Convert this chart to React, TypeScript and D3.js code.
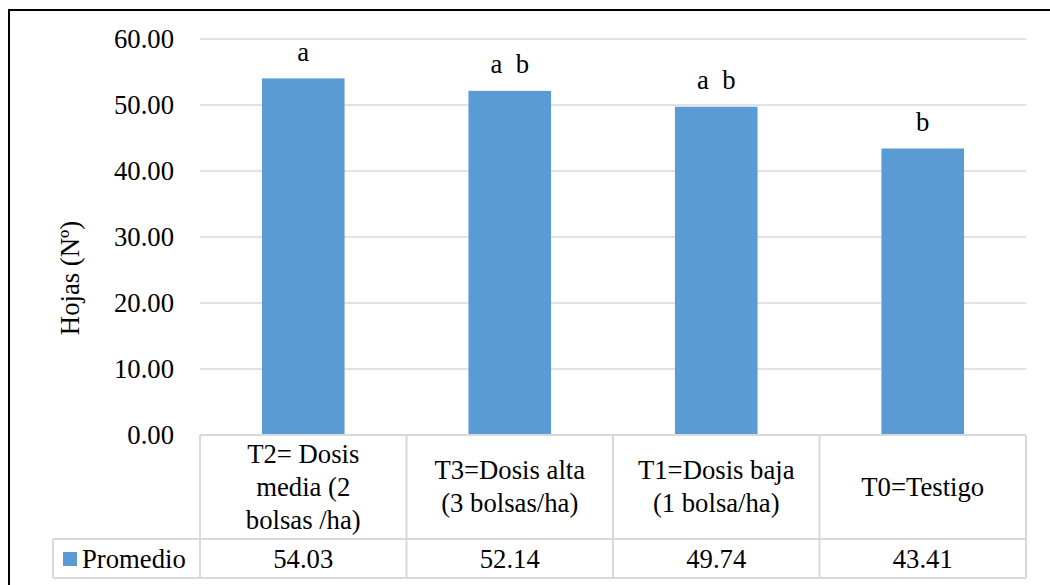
import React from 'react';
import * as d3 from 'd3';

const categories = [
  ['T2= Dosis', 'media (2', 'bolsas /ha)'],
  ['T3=Dosis alta', '(3 bolsas/ha)'],
  ['T1=Dosis baja', '(1 bolsa/ha)'],
  ['T0=Testigo'],
];
const promedio = [54.03, 52.14, 49.74, 43.41];
const letters = ['a', 'a  b', 'a  b', 'b'];
const yTicks = [0, 10, 20, 30, 40, 50, 60];
const seriesName = 'Promedio';
const yTitle = 'Hojas (Nº)';

const W = 1050;
const H = 585;
const left = 200;
const right = 1026;
const top = 39;
const base = 435;
const rowSplit = 539;
const tableBottom = 578;
const legendLeft = 53;
const font = "'Times New Roman', Times, 'Liberation Serif', 'DejaVu Serif', serif";
const fs = 26.7;
const grid = '#d9d9d9';
const barColor = '#5b9bd5';

export default function App() {
  const ids = categories.map((_, i) => String(i));
  const y = d3.scaleLinear().domain([0, 60]).range([base, top]);
  const cols = d3.scaleBand<string>().domain(ids).range([left, right]).padding(0);
  const bars = d3.scaleBand<string>().domain(ids).range([left, right]).paddingInner(0.6).paddingOuter(0.3);
  const lineH = 33;
  const txt = { fontFamily: font, fontSize: fs, fill: '#000' } as React.CSSProperties;

  return (
    <svg width={W} height={H} style={{ position: 'absolute', left: 0, top: 0, background: '#fff', fontFamily: font }}>
      <rect x={9} y={10} width={W + 20} height={H + 20} fill="#fff" stroke="#000" strokeWidth={2} />

      {yTicks.filter(t => t > 0).map(t => (
        <line key={t} x1={left} x2={right} y1={y(t)} y2={y(t)} stroke={grid} strokeWidth={1.3} />
      ))}
      {yTicks.map(t => (
        <text key={t} x={174} y={y(t)} dy="0.33em" textAnchor="end" style={txt}>
          {d3.format('.2f')(t)}
        </text>
      ))}

      <text transform={`translate(79,278) rotate(-90)`} textAnchor="middle" style={txt}>
        {yTitle}
      </text>

      {promedio.map((v, i) => (
        <g key={i}>
          <rect x={bars(ids[i])} y={y(v)} width={bars.bandwidth()} height={base - y(v)} fill={barColor} />
          <text
            x={bars(ids[i])! + bars.bandwidth() / 2}
            y={y(v) - 17.5}
            textAnchor="middle"
            style={{ ...txt, whiteSpace: 'pre' }}
          >
            {letters[i]}
          </text>
        </g>
      ))}

      {/* data table */}
      <g stroke={grid} strokeWidth={2} fill="none">
        <line x1={left} x2={right} y1={base} y2={base} />
        <line x1={legendLeft} x2={right} y1={rowSplit} y2={rowSplit} />
        <line x1={legendLeft} x2={right} y1={tableBottom} y2={tableBottom} />
        <line x1={legendLeft} x2={legendLeft} y1={rowSplit} y2={tableBottom} />
        {ids.map(id => (
          <line key={id} x1={cols(id)} x2={cols(id)} y1={base} y2={tableBottom} />
        ))}
        <line x1={right} x2={right} y1={base} y2={tableBottom} />
      </g>

      {categories.map((lines, i) => {
        const cx = cols(ids[i])! + cols.bandwidth() / 2;
        const cy = (base + rowSplit) / 2;
        const y0 = cy - ((lines.length - 1) * lineH) / 2;
        return (
          <text key={i} textAnchor="middle" style={txt}>
            {lines.map((l, j) => (
              <tspan key={j} x={cx} y={y0 + j * lineH} dy="0.33em">{l}</tspan>
            ))}
          </text>
        );
      })}

      {promedio.map((v, i) => (
        <text
          key={i}
          x={cols(ids[i])! + cols.bandwidth() / 2}
          y={(rowSplit + tableBottom) / 2}
          dy="0.35em"
          textAnchor="middle"
          style={txt}
        >
          {d3.format('.2f')(v)}
        </text>
      ))}

      <rect x={63} y={552} width={14} height={14} fill={barColor} />
      <text x={82} y={(rowSplit + tableBottom) / 2} dy="0.35em" style={txt}>
        {seriesName}
      </text>
    </svg>
  );
}
